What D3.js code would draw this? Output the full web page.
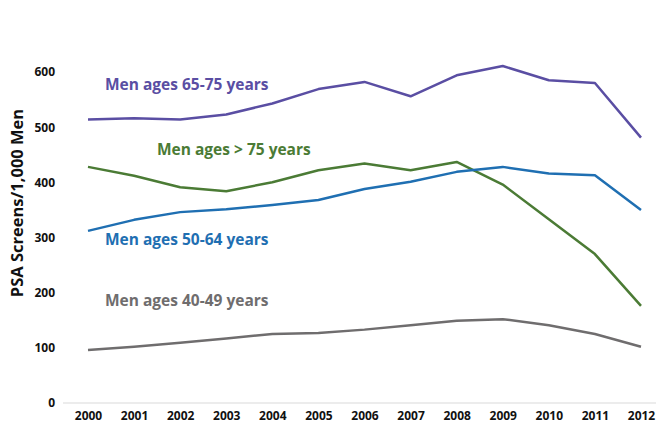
<!DOCTYPE html>
<html><head><meta charset="utf-8">
<script src="https://cdn.jsdelivr.net/npm/d3@7"></script>
<style>body{margin:0;background:#fff;} svg{display:block;font-family:"Open Sans",sans-serif;}</style>
</head><body><svg id="c" width="656" height="423"></svg>
<script>
const years = [2000,2001,2002,2003,2004,2005,2006,2007,2008,2009,2010,2011,2012];
const yTicks = [0,100,200,300,400,500,600];
const men6575 = [514,516,514,523,543,569,582,556,594,611,585,580,481];
const menOver75 = [428,412,391,384,400,422,434,422,437,396,333,270,176];
const men5064 = [312,332,346,351,359,368,388,401,419,428,416,413,350];
const men4049 = [96,102,109,117,125,127,133,141,149,152,141,125,102];
const seriesNames = ["Men ages 65-75 years","Men ages > 75 years","Men ages 50-64 years","Men ages 40-49 years"];
const seriesColors = ["#5a4ea3","#4b7b35","#1f6fb2","#6f6d6e"];
const seriesData = [men6575, menOver75, men5064, men4049];
const labelPos = [[105,86],[157,151],[105,241],[105,302]];

const svg = d3.select("#c");
const x = d3.scaleLinear().domain([2000,2012]).range([88,641]);
const y = d3.scaleLinear().domain([0,600]).range([403,72]);

svg.append("line").attr("x1",63).attr("x2",656).attr("y1",y(0)).attr("y2",y(0))
  .attr("stroke","#d9d9d9").attr("stroke-width",1);

const xAxis = svg.append("g").attr("transform",`translate(0,${y(0)})`)
  .call(d3.axisBottom(x).tickValues(years).tickFormat(d3.format("d")).tickSize(0).tickPadding(8));
xAxis.select(".domain").remove();
xAxis.selectAll("text").attr("font-size",12).attr("font-weight",700).attr("fill","#111").attr("font-family","'Open Sans',sans-serif");

const yAxis = svg.append("g").attr("transform","translate(55,0)")
  .call(d3.axisLeft(y).tickValues(yTicks).tickSize(0).tickPadding(0));
yAxis.select(".domain").remove();
yAxis.selectAll("text").attr("font-size",12).attr("font-weight",700).attr("fill","#111").attr("font-family","'Open Sans',sans-serif");

svg.append("text").attr("transform","translate(19,203) rotate(-90)")
  .attr("text-anchor","middle").attr("dominant-baseline","middle")
  .attr("font-size",16.5).attr("font-weight",700).attr("fill","#111")
  .text("PSA Screens/1,000 Men");

const line = d3.line().x((d,i)=>x(years[i])).y(d=>y(d));
seriesData.forEach((s,k)=>{
  svg.append("path").datum(s).attr("d",line).attr("fill","none")
    .attr("stroke",seriesColors[k]).attr("stroke-width",2.5).attr("stroke-linejoin","round");
  svg.append("text").attr("x",labelPos[k][0]).attr("y",labelPos[k][1])
    .attr("dominant-baseline","middle").attr("font-size",15.5).attr("font-weight",700)
    .attr("fill",seriesColors[k]).text(seriesNames[k]);
});
</script></body></html>
